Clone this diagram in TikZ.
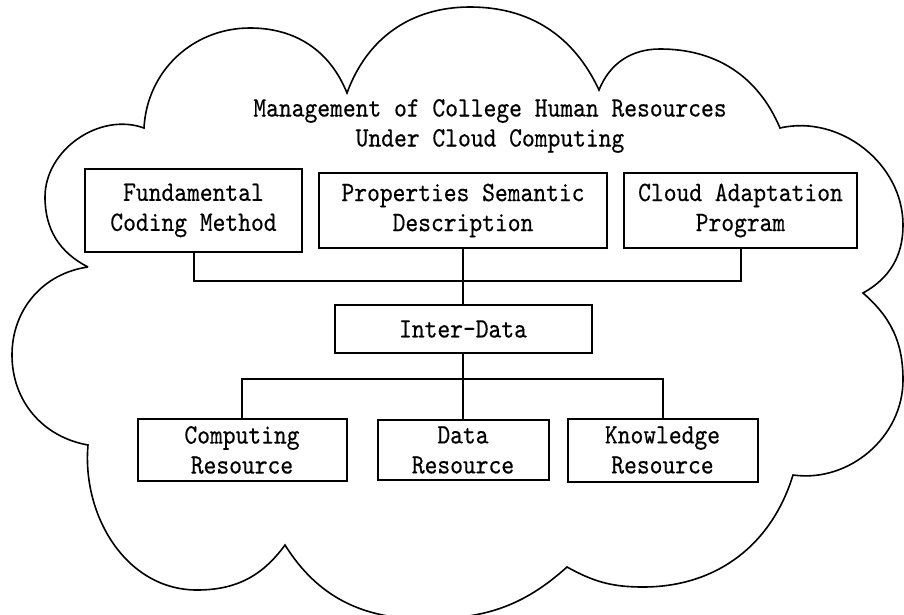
\documentclass[tikz,border=0pt]{standalone}
\usepackage{fontspec}
\setmonofont{lmmono10-regular.otf}[FakeStretch=0.87,FakeBold=0.4]
\usetikzlibrary{positioning}

\begin{document}
\begin{tikzpicture}[x=0.5pt,y=0.5pt,
      font=\ttfamily\fontsize{14}{15}\selectfont,
      box style/.style={draw=black,line width=1pt,align=center,inner sep=0pt},
      wire style/.style={draw=black,line width=1pt},
      cloud style/.style={draw=black,line width=0.8pt}
      ]
      \useasboundingbox (0,0) rectangle (904,-615);
      % cloud outline, one bump after the other
      \draw[cloud style] (88,-267) to[out=153,in=270] (45,-197) to[out=90,in=160] (144,-128)
        to[out=87,in=180] (250,-28) to[out=0,in=112] (347,-93)
        to[out=70,in=180] (470,-7) to[out=0,in=115] (599,-90)
        to[out=68,in=180] (660,-49) to[out=0,in=113] (780,-128)
        to[out=13,in=90] (903,-225) to[out=270,in=29] (863,-293)
        to[out=-41,in=90] (903,-380) to[out=270,in=-8] (793,-475)
        to[out=253,in=0] (643,-587) to[out=180,in=331] (567,-567)
        to[out=222,in=0] (425,-619) to[out=180,in=302] (285,-545)
        to[out=234,in=0] (197,-590) to[out=180,in=265] (88,-445)
        to[out=170,in=270] (12,-355) to[out=90,in=188] (88,-267);
      \node[align=center] (title) at (490,-126) {Management of College Human Resources\\Under Cloud Computing};
      \node[box style,minimum width=144pt,minimum height=37.5pt] (prop) at (463,-210.5) {Properties Semantic\\Description};
      \node[box style,minimum width=108.5pt,minimum height=41.5pt,left=7.5pt of prop] (fund) {Fundamental\\Coding Method};
      \node[box style,minimum width=116.5pt,minimum height=37.5pt,right=7.5pt of prop] (adapt) {Cloud Adaptation\\Program};
      \node[box style,minimum width=128.5pt,minimum height=24pt,below=27.5pt of prop] (inter) {Inter-Data};
      \node[box style,minimum width=85.5pt,minimum height=30pt,below=32.5pt of inter] (data) {Data\\Resource};
      \node[box style,minimum width=104.5pt,minimum height=31pt,left=14.5pt of data] (comp) {Computing\\Resource};
      \node[box style,minimum width=95pt,minimum height=31.5pt,right=8.5pt of data] (know) {Knowledge\\Resource};
      % links
      \coordinate (top bus) at (463,-281);
      \coordinate (low bus) at (463,-379);
      \draw[wire style] (fund.south) |- (top bus) -| (adapt.south);
      \draw[wire style] (prop.south) -- (inter.north);
      \draw[wire style] (inter.south) -- (inter.south |- data.north);
      \draw[wire style] (comp.north) |- (low bus) -| (know.north);
\end{tikzpicture}
\end{document}
